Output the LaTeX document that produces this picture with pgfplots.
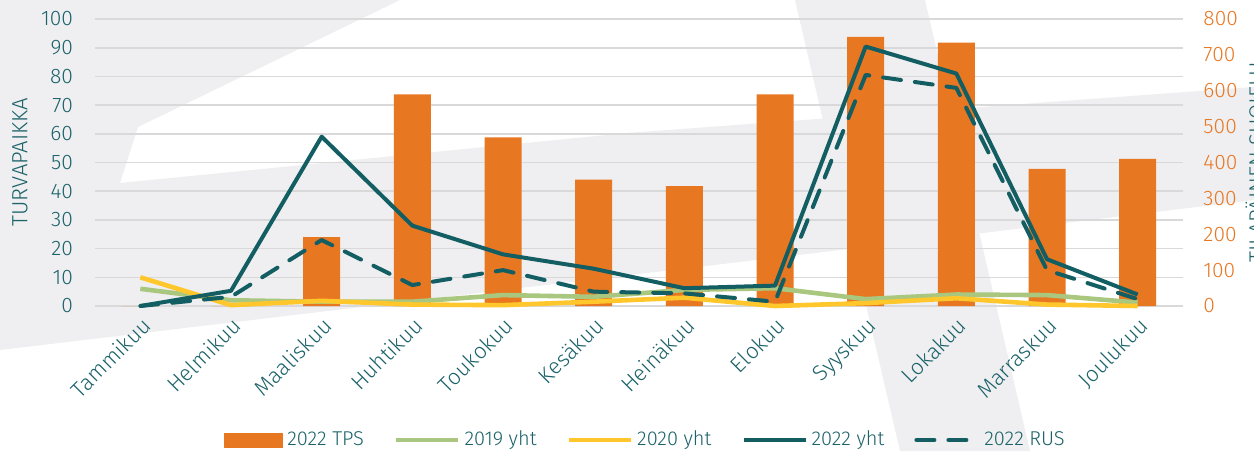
\documentclass[border=0pt]{standalone}
\usepackage{fontspec}
\setmainfont{Fira Sans Light}
\usepackage{pgfplots}
\pgfplotsset{compat=1.18}

\definecolor{tps}{HTML}{E87722}
\definecolor{y19}{HTML}{A9C77F}
\definecolor{y20}{HTML}{FFC72C}
\definecolor{teal22}{HTML}{135E63}
\definecolor{txt}{HTML}{1B6269}
\definecolor{bg}{HTML}{EFEFF1}
\definecolor{gridc}{HTML}{D9D9D9}

\pgfplotsset{
  base/.style={
    scale only axis, width=544pt, height=143.5pt,
    at={(47.5pt,72.5pt)}, anchor=south west,
    xmin=-0.5, xmax=11.5, ymin=0,
    axis line style={draw=none}, major tick length=0pt,
    font=\fontsize{10.5}{12}\selectfont,
    /pgf/number format/assume math mode=true,
    clip=false,
  },
}

\begin{document}
\begin{tikzpicture}
\useasboundingbox (0,0) rectangle (627pt,225.5pt);
\clip (0,0) rectangle (627pt,225.5pt);

% decorative background, in pixel units
\begin{scope}[shift={(0pt,225.5pt)}, x=0.5pt, y=-0.5pt]
  \fill[white] (0,0) rectangle (1254,451);
  \fill[bg] (0,0) -- (400,0) -- (138,127) -- (120,183) -- (627,133) -- (1254,87)
    -- (1254,200) -- (983,233) -- (0,350) -- cycle;
  \fill[bg] (795,0) -- (925,0) -- (1030,451) -- (900,451) -- cycle;
\end{scope}

% TPS bars on the right axis; the grid follows the left axis (every 10 = 80 here)
\begin{axis}[base,
  ymax=800, ytick distance=100,
  yticklabel pos=right, xtick=\empty,
  extra y ticks={0,80,...,800}, extra y tick labels={},
  extra y tick style={ymajorgrids=true, major grid style={gridc, line width=0.8pt}},
  yticklabel style={text=tps, xshift=6.7pt},
]
\addplot[ybar, bar width=18.5pt, fill=tps, draw=none] coordinates {
(0,0) (1,0) (2,192) (3,590) (4,470) (5,352) (6,334) (7,590) (8,750) (9,734) (10,382) (11,410)
};
\end{axis}

% asylum lines on the left axis
\begin{axis}[base,
  ymax=100, ytick distance=10,
  xtick={0,...,11},
  xticklabels={Tammikuu,Helmikuu,Maaliskuu,Huhtikuu,Toukokuu,Kesäkuu,Heinäkuu,Elokuu,Syyskuu,Lokakuu,Marraskuu,Joulukuu},
  xticklabel style={rotate=45, anchor=north east, text=txt, font=\fontsize{11}{12}\selectfont},
  yticklabel style={text=txt, xshift=-7.5pt},
  legend image code/.code={\draw[#1] (0pt,0pt) -- (31pt,0pt);},
  legend style={at={(0.507,-0.467)}, anchor=center, draw=none, fill=none,
    legend columns=5, text=txt, font=\fontsize{10}{12}\selectfont,
    /tikz/every even column/.append style={column sep=13pt}},
  every axis plot/.append style={line join=round},
]
\addlegendimage{legend image code/.code={\fill[tps] (0pt,-3.5pt) rectangle (29pt,3.5pt);}}
\addlegendentry{2022 TPS}
\addplot[y19, line width=2.3pt] coordinates {
(0,6) (1,2) (2,1.5) (3,1.5) (4,3.8) (5,3.2) (6,5.6) (7,6.2) (8,2.4) (9,4) (10,3.8) (11,1.2)
};
\addlegendentry{2019 yht}
\addplot[y20, line width=2.3pt] coordinates {
(0,10) (1,0.3) (2,1.8) (3,0.5) (4,0.3) (5,1.5) (6,2.9) (7,0) (8,1) (9,2.7) (10,0.5) (11,0)
};
\addlegendentry{2020 yht}
\addplot[teal22, line width=2pt] coordinates {
(0,0) (1,5.3) (2,59) (3,28) (4,18) (5,13) (6,6.2) (7,7.1) (8,90.4) (9,81) (10,16.3) (11,4)
};
\addlegendentry{2022 yht}
\addplot[teal22, line width=2pt, dash pattern=on 9pt off 7pt, line cap=round] coordinates {
(0,0) (1,3.2) (2,23) (3,7.3) (4,12.5) (5,5) (6,4.4) (7,1.5) (8,80.5) (9,76) (10,12.5) (11,2.4)
};
\addlegendentry{2022 RUS}
\end{axis}

\node[rotate=90, text=txt, font=\fontsize{11}{12}\selectfont] at (10pt,144.25pt) {TURVAPAIKKA};
\node[rotate=90, anchor=north, text=txt, font=\fontsize{11}{12}\selectfont, inner sep=0pt] at (622.5pt,144.25pt) {TILAPÄINEN SUOJELU};
\end{tikzpicture}
\end{document}
